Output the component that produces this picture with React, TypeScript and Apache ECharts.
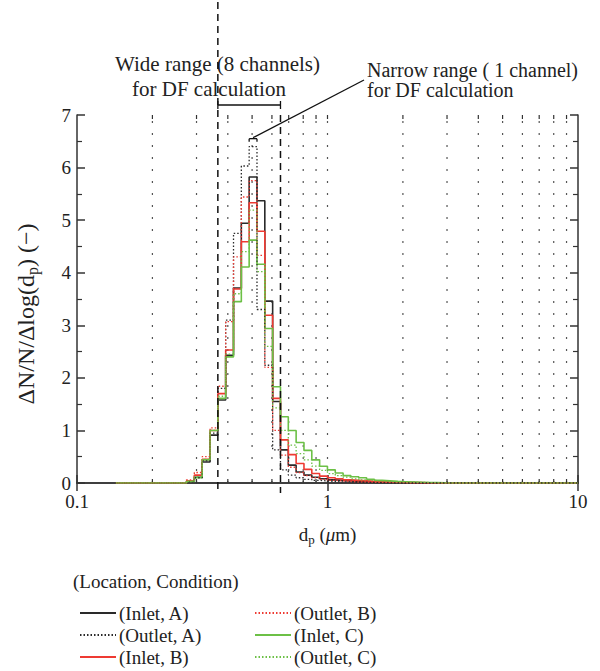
import React, { useEffect, useRef } from 'react';
import * as echarts from 'echarts';

// Lower edges of the size channels (µm); last entry is the upper edge of the last channel
const edges = [0.2547, 0.2736, 0.2940, 0.3161, 0.3397, 0.3650, 0.3922, 0.4215, 0.4529, 0.4867, 0.5230, 0.5621, 0.6040, 0.6491, 0.6975, 0.7495, 0.8055, 0.8656, 0.9301, 0.9995, 1.0741, 1.1542, 1.2403, 1.3329, 1.4322, 1.5391, 1.6539, 1.7773, 1.9099, 2.0524, 2.2055, 2.3700, 2.5470, 2.7362, 2.9404, 3.1608];
const startD = 0.143;
const endD = 10;

const inletA = [0, 0.03, 0.11, 0.40, 0.91, 1.58, 2.43, 3.71, 4.94, 5.82, 5.37, 3.46, 1.55, 0.63, 0.34, 0.21, 0.15, 0.11, 0.08, 0.06, 0.05, 0.04, 0.03, 0.03, 0.02, 0.02, 0.015, 0.01, 0.01, 0.01, 0.005, 0.005, 0, 0, 0, 0];
const outletA = [0, 0.02, 0.10, 0.42, 0.95, 1.80, 3.10, 4.75, 6.03, 6.40, 3.30, 2.24, 0.63, 0.25, 0.15, 0.10, 0.07, 0.05, 0.04, 0.03, 0.02, 0.02, 0.01, 0.01, 0.01, 0.005, 0, 0, 0, 0, 0, 0, 0, 0, 0, 0];
const inletB = [0, 0.04, 0.15, 0.45, 1.0, 1.70, 2.53, 3.69, 4.59, 5.33, 4.79, 3.19, 1.61, 0.82, 0.54, 0.37, 0.26, 0.18, 0.13, 0.10, 0.08, 0.06, 0.05, 0.04, 0.03, 0.03, 0.02, 0.02, 0.015, 0.01, 0.01, 0.005, 0.005, 0, 0, 0];
const outletB = [0, 0.06, 0.20, 0.50, 1.05, 1.84, 3.07, 4.30, 5.44, 5.75, 4.33, 2.20, 1.00, 0.53, 0.30, 0.20, 0.14, 0.10, 0.07, 0.05, 0.04, 0.03, 0.02, 0.02, 0.015, 0.01, 0.01, 0.005, 0, 0, 0, 0, 0, 0, 0, 0];
const inletC = [0, 0.03, 0.10, 0.44, 1.0, 1.61, 2.40, 3.45, 4.11, 4.62, 4.16, 2.94, 1.83, 1.26, 1.0, 0.77, 0.62, 0.44, 0.32, 0.25, 0.19, 0.14, 0.12, 0.10, 0.07, 0.05, 0.04, 0.03, 0.025, 0.02, 0.015, 0.01, 0.01, 0.005, 0, 0];
const outletC = [0, 0.03, 0.12, 0.45, 1.0, 1.65, 2.45, 3.60, 4.40, 5.19, 4.02, 2.60, 1.43, 1.00, 0.72, 0.56, 0.44, 0.32, 0.24, 0.18, 0.14, 0.11, 0.08, 0.06, 0.05, 0.04, 0.03, 0.02, 0.02, 0.015, 0.01, 0.01, 0.005, 0, 0, 0];

const seriesNames = ['(Inlet, A)', '(Outlet, A)', '(Inlet, B)', '(Outlet, B)', '(Inlet, C)', '(Outlet, C)'];
const gridD = [0.2, 0.3, 0.4, 0.5, 0.6, 0.7, 0.8, 0.9, 1, 2, 3, 4, 5, 6, 7, 8, 9];
const wideRange = [0.3650, 0.6491];
const narrowRange = [0.4867, 0.5230];
const narrowLevel = 6.55;

const FONT = '"Liberation Serif", "Times New Roman", serif';
const BLACK = '#2a2a2a';
const RED = '#ee3a32';
const GREEN = '#6cc046';

function stepData(vals: number[]) {
  const pts: number[][] = [[startD, 0]];
  edges.forEach((e, i) => pts.push([e, vals[i]]));
  pts.push([endD, 0]);
  return pts;
}

export default function App() {
  const ref = useRef<HTMLDivElement>(null);
  useEffect(() => {
    if (!ref.current) return;
    const chart = echarts.init(ref.current, undefined, { renderer: 'svg' });
    const mk = (name: string, vals: number[], color: string, dotted: boolean, z: number) => ({
      name,
      type: 'line',
      step: 'end',
      data: stepData(vals),
      symbol: 'none',
      showSymbol: false,
      z,
      lineStyle: { color, width: dotted ? 1.3 : 1.6, type: dotted ? [1.5, 2] : 'solid' },
      itemStyle: { color },
    });
    const axisLineStyle = { color: '#333', width: 1.5 };
    const rich = {
      a: { fontFamily: FONT, fontSize: 19, color: '#222' },
      s: { fontFamily: FONT, fontSize: 13, color: '#222', padding: [10, 0, 0, 0] },
      i: { fontFamily: FONT, fontSize: 19, color: '#222', fontStyle: 'italic' },
    };
    const richY = {
      a: { fontFamily: FONT, fontSize: 24, color: '#222' },
      s: { fontFamily: FONT, fontSize: 16, color: '#222', padding: [12, 0, 0, 0] },
    };
    const legendPos = [
      [79, 603], [79, 625], [79, 647],
      [254, 603], [254, 625], [254, 647],
    ];
    const legends = seriesNames.map((n, i) => ({
      data: [n],
      orient: 'vertical',
      left: legendPos[i][0],
      top: legendPos[i][1],
      padding: 0,
      itemWidth: 36,
      itemHeight: 12,
      selectedMode: false,
      itemStyle: { opacity: 0 },
      textStyle: { fontFamily: FONT, fontSize: 19, color: '#222', lineHeight: 20, padding: [0, 0, 0, -2] },
    }));
    const option: any = {
      animation: false,
      grid: { left: 77, right: 22, top: 115, bottom: 188 },
      xAxis: [
        {
          type: 'log', logBase: 10, min: 0.1, max: 10, position: 'bottom',
          axisLine: { show: true, lineStyle: axisLineStyle },
          axisTick: { show: true, inside: true, length: 8, lineStyle: axisLineStyle },
          axisLabel: { fontFamily: FONT, fontSize: 19, color: '#222', margin: 9, formatter: (v: number) => String(v) },
          splitLine: { show: false },
          name: '{a|d}{s|p}{a| (}{i|μ}{a|m)}',
          nameLocation: 'middle', nameGap: 40,
          nameTextStyle: { rich },
        },
        {
          type: 'log', logBase: 10, min: 0.1, max: 10, position: 'top',
          axisLine: { show: true, lineStyle: axisLineStyle },
          axisTick: { show: true, inside: true, length: 8, lineStyle: axisLineStyle },
          axisLabel: { show: false },
          splitLine: { show: false },
        },
      ],
      yAxis: [
        {
          type: 'value', min: 0, max: 7, interval: 1, position: 'left',
          axisLine: { show: true, lineStyle: axisLineStyle },
          axisTick: { show: true, inside: true, length: 8, lineStyle: axisLineStyle },
          minorTick: { show: true, splitNumber: 2, length: 5, lineStyle: { color: '#333', width: 1.2 } },
          axisLabel: { fontFamily: FONT, fontSize: 19, color: '#222', margin: 6 },
          splitLine: { show: false },
          name: '{a|ΔN/N/Δlog(d}{s|p}{a|) (−)}',
          nameLocation: 'middle', nameRotate: 90, nameGap: 37,
          nameTextStyle: { rich: richY, padding: [0, 30, 0, 0] },
        },
        {
          type: 'value', min: 0, max: 7, interval: 1, position: 'right',
          axisLine: { show: true, lineStyle: axisLineStyle },
          axisTick: { show: true, inside: true, length: 8, lineStyle: axisLineStyle },
          minorTick: { show: true, splitNumber: 2, length: 5, lineStyle: { color: '#333', width: 1.2 } },
          axisLabel: { show: false },
          splitLine: { show: false },
        },
      ],
      legend: legends,
      graphic: [
        { type: 'text', left: 115, top: 53, style: { text: 'Wide range (8 channels)', font: `21px ${FONT}`, fill: '#222' } },
        { type: 'text', left: 132, top: 78, style: { text: 'for DF calculation', font: `21px ${FONT}`, fill: '#222' } },
        { type: 'text', left: 367, top: 60, style: { text: 'Narrow range ( 1 channel)', font: `20px ${FONT}`, fill: '#222' } },
        { type: 'text', left: 367, top: 80, style: { text: 'for DF calculation', font: `20px ${FONT}`, fill: '#222' } },
        { type: 'text', left: 73, top: 572, style: { text: '(Location, Condition)', font: `19px ${FONT}`, fill: '#222' } },
      ],
      series: [
        {
          type: 'custom', silent: true, z: 1,
          data: gridD.map((d) => [d, 0]),
          renderItem: (params: any, api: any) => {
            const p0 = api.coord([api.value(0), 0]);
            const p1 = api.coord([api.value(0), 7]);
            return {
              type: 'group',
              children: [
                { type: 'line', shape: { x1: p0[0], y1: p0[1], x2: p1[0], y2: p1[1] }, style: { stroke: '#555', lineWidth: 1.2, lineDash: [2, 10] } },
                { type: 'line', shape: { x1: p0[0], y1: p0[1], x2: p0[0], y2: p0[1] - 4 }, style: { stroke: '#333', lineWidth: 1.2 } },
                { type: 'line', shape: { x1: p1[0], y1: p1[1], x2: p1[0], y2: p1[1] + 4 }, style: { stroke: '#333', lineWidth: 1.2 } },
              ],
            };
          },
        },
        mk(seriesNames[0], inletA, BLACK, false, 3),
        mk(seriesNames[1], outletA, BLACK, true, 4),
        mk(seriesNames[2], inletB, RED, false, 3),
        mk(seriesNames[3], outletB, RED, true, 4),
        mk(seriesNames[4], inletC, GREEN, false, 3),
        mk(seriesNames[5], outletC, GREEN, true, 4),
        {
          type: 'custom', silent: true, z: 6,
          data: [[wideRange[0], 0]],
          renderItem: (params: any, api: any) => {
            const a = api.coord([wideRange[0], 0]);
            const b = api.coord([wideRange[1], 0]);
            const top = api.coord([wideRange[0], 7])[1];
            const n1 = api.coord([narrowRange[0], narrowLevel]);
            const n2 = api.coord([narrowRange[1], narrowLevel]);
            const dash = { stroke: '#111', lineWidth: 1.5, lineDash: [7, 5] };
            const solid = { stroke: '#111', lineWidth: 1.3 };
            const by = top - 10;
            const nm = (n1[0] + n2[0]) / 2;
            return {
              type: 'group',
              children: [
                { type: 'line', shape: { x1: a[0], y1: 2, x2: a[0], y2: a[1] + 10 }, style: dash },
                { type: 'line', shape: { x1: b[0], y1: top, x2: b[0], y2: b[1] + 10 }, style: dash },
                { type: 'line', shape: { x1: a[0], y1: by, x2: b[0], y2: by }, style: solid },
                { type: 'line', shape: { x1: a[0], y1: by - 4, x2: a[0], y2: by + 4 }, style: solid },
                { type: 'line', shape: { x1: b[0], y1: by - 4, x2: b[0], y2: by + 4 }, style: solid },
                { type: 'line', shape: { x1: n1[0], y1: n1[1], x2: n2[0], y2: n2[1] }, style: solid },
                { type: 'line', shape: { x1: n1[0], y1: n1[1], x2: n1[0], y2: n1[1] + 3 }, style: solid },
                { type: 'line', shape: { x1: n2[0], y1: n2[1], x2: n2[0], y2: n2[1] + 3 }, style: solid },
                { type: 'line', shape: { x1: nm, y1: n1[1] - 1, x2: 364, y2: 80 }, style: solid },
              ],
            };
          },
        },
      ],
    };
    chart.setOption(option);
    return () => chart.dispose();
  }, []);
  return <div ref={ref} style={{ position: 'absolute', left: 0, top: 0, width: 600, height: 671 }} />;
}
